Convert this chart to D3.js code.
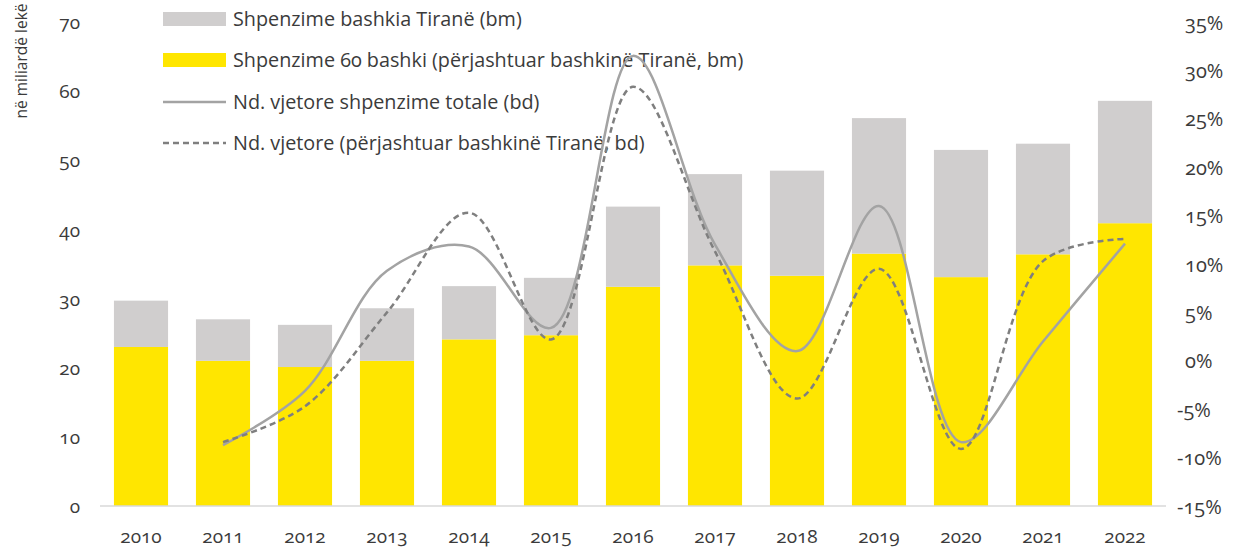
<!DOCTYPE html>
<html>
<head>
<meta charset="utf-8">
<script src="https://cdn.jsdelivr.net/npm/d3@7"></script>
<style>
  html, body { margin: 0; padding: 0; background: #fff; }
  svg text { font-family: "Open Sans", "Lato", sans-serif; fill: #3b3b3b; font-variant-numeric: oldstyle-nums; font-feature-settings: "onum" 1; }
</style>
</head>
<body>
<svg id="chart" width="1241" height="549"></svg>
<script>
// Municipal expenditure, billion lek (left axis) and annual growth (right axis)
const years = ["2010","2011","2012","2013","2014","2015","2016","2017","2018","2019","2020","2021","2022"];
const other60 = [23.0, 21.0, 20.1, 21.0, 24.1, 24.7, 31.7, 34.8, 33.3, 36.5, 33.1, 36.4, 40.9];
const tirana  = [6.7, 6.0, 6.1, 7.6, 7.7, 8.3, 11.6, 13.2, 15.2, 19.6, 18.4, 16.0, 17.7];
const growthYears = ["2011","2012","2013","2014","2015","2016","2017","2018","2019","2020","2021","2022"];
const growthTotal = [-8.7, -3.1, 9.3, 11.8, 3.4, 31.5, 12.0, 1.0, 16.0, -8.4, 2.0, 12.1];
const growthExTirana = [-8.4, -4.7, 5.0, 15.3, 2.2, 28.3, 11.3, -3.9, 9.5, -9.1, 10.3, 12.6];
const leftTicks = [0, 10, 20, 30, 40, 50, 60, 70];
const rightTicks = [-15, -10, -5, 0, 5, 10, 15, 20, 25, 30, 35];

const labels = {
  tirana: "Shpenzime bashkia Tiranë (bm)",
  other: "Shpenzime 60 bashki (përjashtuar bashkinë Tiranë, bm)",
  total: "Nd. vjetore shpenzime totale (bd)",
  ex: "Nd. vjetore (përjashtuar bashkinë Tiranë, bd)",
  yTitle: "në miliardë lekë"
};

const colors = { tirana: "#d0cece", other: "#ffe600", total: "#a3a3a3", ex: "#7f7f7f", axis: "#d9d9d9" };

const svg = d3.select("#chart");
const plot = { left: 100, right: 1166, top: 22, bottom: 506 };

const x = d3.scaleBand().domain(years).range([plot.left, plot.right]).paddingInner(0.34).paddingOuter(0.17);
const yL = d3.scaleLinear().domain([0, 70]).range([plot.bottom, plot.top]);
const yR = d3.scaleLinear().domain([-15, 35]).range([plot.bottom, plot.top]);

// stacked bars
const rows = years.map((yr, i) => ({ year: yr, other: other60[i], tirana: tirana[i] }));
const stack = d3.stack().keys(["other", "tirana"])(rows);
svg.append("g").selectAll("g").data(stack).join("g")
  .attr("fill", d => d.key === "other" ? colors.other : colors.tirana)
  .selectAll("rect").data(d => d).join("rect")
  .attr("x", d => x(d.data.year))
  .attr("width", x.bandwidth())
  .attr("y", d => yL(d[1]))
  .attr("height", d => yL(d[0]) - yL(d[1]));

// baseline
svg.append("line")
  .attr("x1", plot.left).attr("x2", plot.right)
  .attr("y1", yL(0)).attr("y2", yL(0))
  .attr("stroke", colors.axis).attr("stroke-width", 1.5);

// left axis labels
const axL = svg.append("g").attr("transform", `translate(${plot.left - 20},0)`)
  .call(d3.axisLeft(yL).tickValues(leftTicks).tickSize(0).tickPadding(0));
axL.select(".domain").remove();
axL.selectAll("text").attr("font-size", 19).attr("dy", "0.35em");

// right axis labels
const axR = svg.append("g").attr("transform", `translate(${plot.right + 19},0)`)
  .call(d3.axisRight(yR).tickValues(rightTicks).tickSize(0).tickPadding(0).tickFormat(d => d + "%"));
axR.select(".domain").remove();
axR.selectAll("text").attr("font-size", 20).attr("dy", "0.35em")
  .attr("dx", d => d < 0 ? -8 : 0);

// x axis labels
const axX = svg.append("g").attr("transform", `translate(0,${plot.bottom + 30})`)
  .call(d3.axisBottom(x).tickSize(0).tickPadding(0));
axX.select(".domain").remove();
axX.selectAll("text").attr("font-size", 19).attr("dy", "0.35em");

// y title
svg.append("text")
  .attr("transform", "translate(22,61) rotate(-90)")
  .attr("text-anchor", "middle").attr("dy", "0.35em")
  .attr("font-size", 15.5)
  .text(labels.yTitle);

// legend
const legend = svg.append("g");
const legRows = [
  { key: "tirana", y: 19, type: "rect" },
  { key: "other", y: 60, type: "rect" },
  { key: "total", y: 102, type: "line" },
  { key: "ex", y: 143, type: "dash" }
];
legRows.forEach(r => {
  if (r.type === "rect") {
    legend.append("rect").attr("x", 163).attr("y", r.y - 7).attr("width", 63).attr("height", 14)
      .attr("fill", colors[r.key]);
  } else {
    legend.append("line").attr("x1", 163).attr("x2", 226).attr("y1", r.y).attr("y2", r.y)
      .attr("stroke", colors[r.key]).attr("stroke-width", 2.5)
      .attr("stroke-dasharray", r.type === "dash" ? "6,4" : null);
  }
  legend.append("text").attr("x", 233).attr("y", r.y).attr("dy", "0.35em")
    .attr("font-size", 19.8).text(labels[r.key]);
});

// growth lines
const cx = yr => x(yr) + x.bandwidth() / 2;
const line = d3.line().x(d => cx(d[0])).y(d => yR(d[1])).curve(d3.curveCatmullRom.alpha(0.5));
svg.append("path")
  .datum(growthYears.map((yr, i) => [yr, growthTotal[i]]))
  .attr("d", line).attr("fill", "none")
  .attr("stroke", colors.total).attr("stroke-width", 2.5);
svg.append("path")
  .datum(growthYears.map((yr, i) => [yr, growthExTirana[i]]))
  .attr("d", line).attr("fill", "none")
  .attr("stroke", colors.ex).attr("stroke-width", 2.5).attr("stroke-dasharray", "6,4");
</script>
</body>
</html>
